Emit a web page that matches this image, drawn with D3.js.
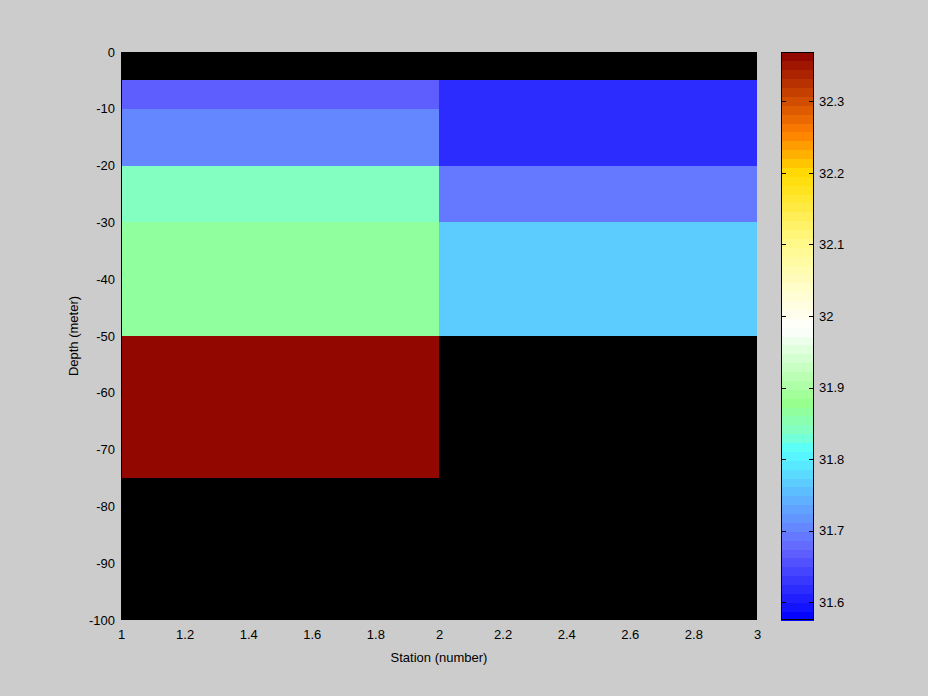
<!DOCTYPE html>
<html>
<head>
<meta charset="utf-8">
<script src="https://cdn.jsdelivr.net/npm/d3@7"></script>
<style>
html,body{margin:0;padding:0;background:#cccccc;}
svg{display:block;}
text{font-family:"Liberation Sans",Arial,sans-serif;font-size:13px;fill:#000;}
</style>
</head>
<body>
<svg id="chart" width="928" height="696"></svg>
<script>
// ---- data ----
const stationEdges = [1, 2, 3];
const depthEdges = [0, -5, -10, -20, -30, -50, -75, -100];
const station1Values = [null, 31.674, 31.71, 31.837, 31.865, 32.369, null];
const station2Values = [null, 31.613, 31.613, 31.694, 31.764, null, null];
const xTicks = [1, 1.2, 1.4, 1.6, 1.8, 2, 2.2, 2.4, 2.6, 2.8, 3];
const yTicks = [0, -10, -20, -30, -40, -50, -60, -70, -80, -90, -100];
const cbarTicks = [31.6, 31.7, 31.8, 31.9, 32, 32.1, 32.2, 32.3];
const colorLimits = [31.575, 32.369];
const xLabel = "Station (number)";
const yLabel = "Depth (meter)";

// colormap anchors (fraction -> colour)
const cmapStops = [0, 0.125, 0.17, 0.3, 0.33, 0.382, 0.516, 0.661, 0.787, 0.857, 1];
const cmapColors = ["#0000ff", "#6464ff", "#648cff", "#55ffff", "#80ffc8", "#96ff8c", "#ffffff", "#fffa8c", "#ffdc00", "#ff8000", "#8c0000"];
const nLevels = 64;

const svg = d3.select("#chart");
const plot = {x0: 121, x1: 757, y0: 52, y1: 620};
const cbar = {x0: 781, x1: 814};
const fmt = d => String(d);

const x = d3.scaleLinear().domain([1, 3]).range([plot.x0, plot.x1]);
const y = d3.scaleLinear().domain([-100, 0]).range([plot.y1, plot.y0]);
const cInterp = d3.scaleLinear().domain(cmapStops).range(cmapColors).interpolate(d3.interpolateRgb);
const cmap = d3.range(nLevels).map(i => cInterp((i + 0.5) / nLevels));
const colorOf = v => {
  if (v == null) return "#000000";
  let k = Math.floor((v - colorLimits[0]) / (colorLimits[1] - colorLimits[0]) * nLevels);
  k = Math.max(0, Math.min(nLevels - 1, k));
  return cmap[k];
};

// background of axes (NaN = black)
svg.append("rect").attr("x", plot.x0).attr("y", plot.y0)
  .attr("width", plot.x1 - plot.x0).attr("height", plot.y1 - plot.y0).attr("fill", "#000");

const columns = [station1Values, station2Values];
const cells = [];
columns.forEach((col, i) => col.forEach((v, j) => cells.push({
  xa: stationEdges[i], xb: stationEdges[i + 1], ya: depthEdges[j], yb: depthEdges[j + 1], v
})));
svg.append("g").selectAll("rect").data(cells).join("rect")
  .attr("x", d => x(d.xa)).attr("y", d => y(d.ya))
  .attr("width", d => x(d.xb) - x(d.xa)).attr("height", d => y(d.yb) - y(d.ya))
  .attr("fill", d => colorOf(d.v)).attr("shape-rendering", "crispEdges");

// axes
const xAxis = d3.axisBottom(x).tickValues(xTicks).tickSize(0).tickPadding(10).tickFormat(fmt);
const gx = svg.append("g").attr("transform", `translate(0,${plot.y1})`).call(xAxis);
gx.select(".domain").remove();
const yAxis = d3.axisLeft(y).tickValues(yTicks).tickSize(0).tickPadding(6).tickFormat(fmt);
const gy = svg.append("g").attr("transform", `translate(${plot.x0},0)`).call(yAxis);
gy.select(".domain").remove();
svg.selectAll(".tick text").style("font-family", "Liberation Sans, Arial, sans-serif").style("font-size", "13px").attr("fill", "#000");

svg.append("line").attr("x1", plot.x0 + 0.5).attr("x2", plot.x0 + 0.5).attr("y1", plot.y0).attr("y2", plot.y1).attr("stroke", "#000");
svg.append("line").attr("x1", plot.x0).attr("x2", plot.x1).attr("y1", plot.y1 - 0.5).attr("y2", plot.y1 - 0.5).attr("stroke", "#000");

svg.append("text").attr("x", (plot.x0 + plot.x1) / 2).attr("y", 662).attr("text-anchor", "middle").text(xLabel);
svg.append("text").attr("transform", `translate(78,${(plot.y0 + plot.y1) / 2}) rotate(-90)`).attr("text-anchor", "middle").text(yLabel);

// colorbar
const cy = d3.scaleLinear().domain(colorLimits).range([plot.y1, plot.y0]);
const levels = d3.range(nLevels).map(i => ({
  a: colorLimits[0] + i * (colorLimits[1] - colorLimits[0]) / nLevels,
  b: colorLimits[0] + (i + 1) * (colorLimits[1] - colorLimits[0]) / nLevels,
  c: cmap[i]
}));
svg.append("g").selectAll("rect").data(levels).join("rect")
  .attr("x", cbar.x0).attr("width", cbar.x1 - cbar.x0)
  .attr("y", d => cy(d.b)).attr("height", d => cy(d.a) - cy(d.b) + 0.5)
  .attr("fill", d => d.c).attr("shape-rendering", "crispEdges");
svg.append("rect").attr("x", cbar.x0 + 0.5).attr("y", plot.y0 + 0.5)
  .attr("width", cbar.x1 - cbar.x0 - 1).attr("height", plot.y1 - plot.y0 - 1)
  .attr("fill", "none").attr("stroke", "#000");
const cAxis = d3.axisRight(cy).tickValues(cbarTicks).tickSize(0).tickPadding(5).tickFormat(fmt);
const gc = svg.append("g").attr("transform", `translate(${cbar.x1},0)`).call(cAxis);
gc.select(".domain").remove();
gc.selectAll(".tick text").style("font-family", "Liberation Sans, Arial, sans-serif").style("font-size", "13px");
const tk = svg.append("g");
tk.selectAll("line.l").data(cbarTicks).join("line").attr("class", "l")
  .attr("x1", cbar.x0).attr("x2", cbar.x0 + 5).attr("y1", d => Math.round(cy(d)) + 0.5).attr("y2", d => Math.round(cy(d)) + 0.5).attr("stroke", "#000");
tk.selectAll("line.r").data(cbarTicks).join("line").attr("class", "r")
  .attr("x1", cbar.x1 - 5).attr("x2", cbar.x1).attr("y1", d => Math.round(cy(d)) + 0.5).attr("y2", d => Math.round(cy(d)) + 0.5).attr("stroke", "#000");
</script>
</body>
</html>
